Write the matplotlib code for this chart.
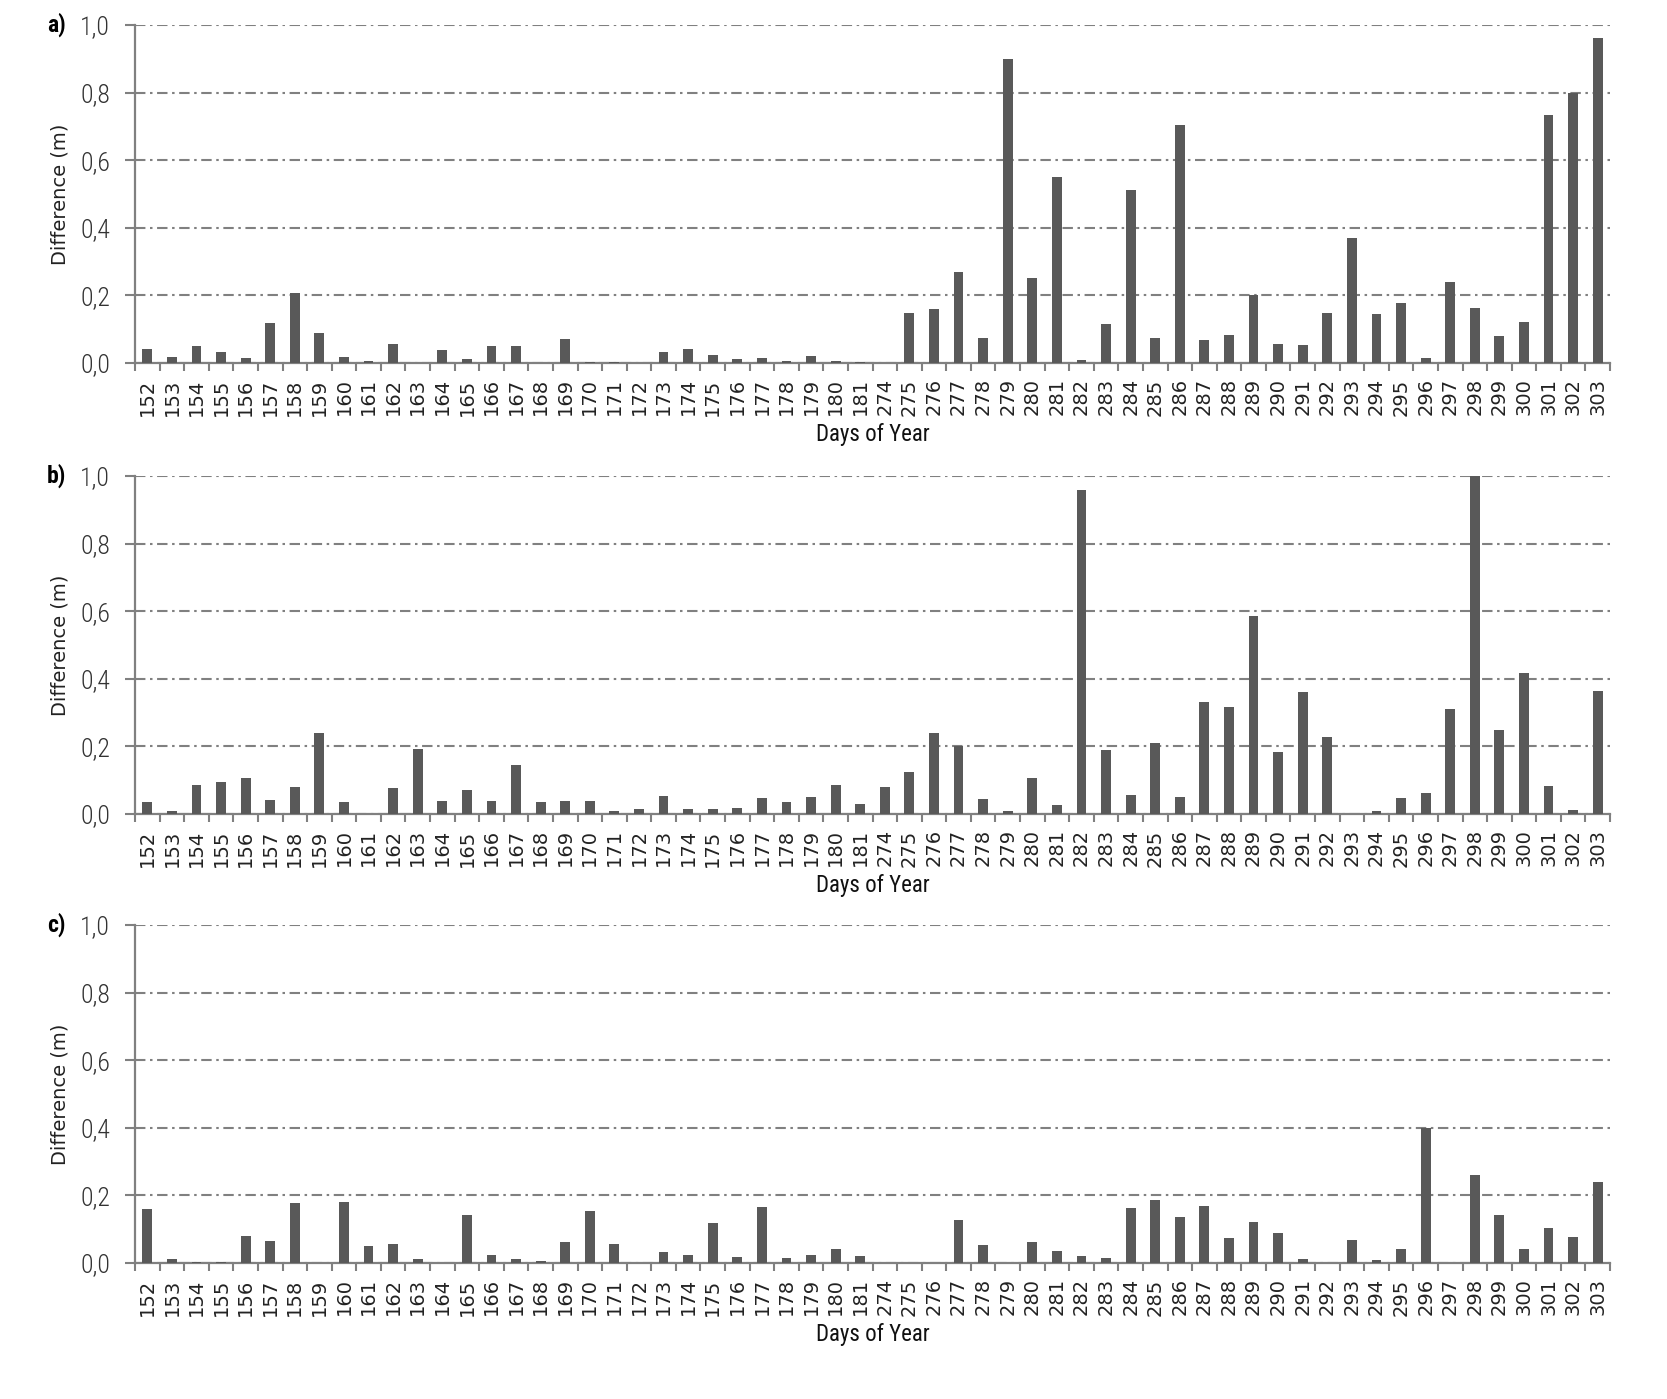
import numpy as np
import matplotlib
matplotlib.use('Agg')
import matplotlib.pyplot as plt
from matplotlib import font_manager

# day-of-year categories (same for all three panels)
days = [str(d) for d in range(152, 182)] + ['274'] + [str(d) for d in range(275, 304)]

diff_a = [0.042, 0.019, 0.051, 0.033, 0.016, 0.119, 0.208, 0.090, 0.019, 0.007,
          0.057, 0.000, 0.039, 0.013, 0.051, 0.051, 0.000, 0.072, 0.004, 0.004,
          0.000, 0.033, 0.042, 0.025, 0.013, 0.016, 0.007, 0.022, 0.007, 0.004,
          0.000, 0.149, 0.161, 0.270, 0.075, 0.900, 0.252, 0.551, 0.010, 0.116,
          0.512, 0.075, 0.704, 0.069, 0.084, 0.202, 0.057, 0.054, 0.149, 0.370,
          0.146, 0.178, 0.016, 0.240, 0.164, 0.081, 0.122, 0.734, 0.799, 0.962]

diff_b = [0.036, 0.010, 0.086, 0.095, 0.107, 0.042, 0.080, 0.239, 0.036, 0.000,
          0.078, 0.192, 0.039, 0.072, 0.039, 0.145, 0.036, 0.039, 0.039, 0.010,
          0.016, 0.054, 0.016, 0.016, 0.019, 0.048, 0.036, 0.051, 0.086, 0.030,
          0.080, 0.125, 0.239, 0.201, 0.045, 0.010, 0.107, 0.027, 0.958, 0.190,
          0.057, 0.210, 0.051, 0.331, 0.316, 0.587, 0.184, 0.360, 0.228, 0.000,
          0.010, 0.048, 0.063, 0.310, 1.000, 0.248, 0.416, 0.083, 0.013, 0.363]

diff_c = [0.161, 0.013, 0.004, 0.004, 0.081, 0.066, 0.178, 0.000, 0.181, 0.051,
          0.057, 0.013, 0.000, 0.143, 0.025, 0.013, 0.007, 0.063, 0.155, 0.057,
          0.000, 0.033, 0.025, 0.119, 0.019, 0.166, 0.016, 0.025, 0.042, 0.022,
          0.000, 0.000, 0.000, 0.128, 0.054, 0.000, 0.063, 0.036, 0.022, 0.016,
          0.164, 0.187, 0.137, 0.169, 0.075, 0.122, 0.090, 0.013, 0.000, 0.069,
          0.010, 0.042, 0.400, 0.000, 0.261, 0.143, 0.042, 0.104, 0.078, 0.240]

panels = ['a)', 'b)', 'c)']
yticks = [0.0, 0.2, 0.4, 0.6, 0.8, 1.0]

# pick a narrow face if one is around, the reference uses a condensed font
installed = {f.name for f in font_manager.fontManager.ttflist}
narrow_face = next((n for n in ['Roboto Condensed', 'DejaVu Sans Condensed',
                                'Liberation Sans Narrow', 'Open Sans Condensed']
                    if n in installed), 'DejaVu Sans')
narrow = [narrow_face, 'DejaVu Sans']
narrow_size = 18.5 if narrow_face != 'DejaVu Sans' else 15

axis_grey = '#808080'
bar_grey = '#595959'

fig = plt.figure(figsize=(16.67, 13.99), dpi=100)

W, H = 1667, 1399
left, width, height = 135 / W, 1475 / W, 338 / H
bottoms = [1 - 363 / H, 1 - 814 / H, 1 - 1263 / H]


def draw_panel(ax, values, tag):
    x = np.arange(len(days))
    ax.bar(x, values, width=0.4, color=bar_grey, zorder=3)
    ax.set_xlim(-0.5, len(days) - 0.5)
    ax.set_ylim(0, 1.0)

    # category boundaries get the tick marks, labels sit in the middle
    ax.set_xticks(np.arange(len(days) + 1) - 0.5)
    ax.set_xticklabels([])
    ax.set_xticks(x, minor=True)
    ax.set_xticklabels(days, minor=True, rotation=90, fontsize=14,
                       color='#222222')
    ax.tick_params(axis='x', which='major', direction='out', length=6,
                   width=1.5, color=axis_grey)
    ax.tick_params(axis='x', which='minor', length=0, pad=11)

    ax.set_yticks(yticks)
    ax.set_yticklabels([f'{v:.1f}'.replace('.', ',') for v in yticks],
                       family=narrow, fontsize=narrow_size, color='#333333',
                       fontweight='light')
    ax.tick_params(axis='y', direction='out', length=7, width=1.5,
                   color=axis_grey, pad=11)

    ax.yaxis.grid(True, color=axis_grey, lw=1.5,
                  linestyle=(0, (5, 2.2, 1.2, 2.2)))
    ax.set_axisbelow(True)

    for s in ['top', 'right']:
        ax.spines[s].set_visible(False)
    for s in ['left', 'bottom']:
        ax.spines[s].set_color(axis_grey)
        ax.spines[s].set_linewidth(1.6)

    ax.set_ylabel('Difference (m)', fontsize=14, color='#222222')
    ax.yaxis.label.set_va('center')
    ax.yaxis.set_label_coords(-75 / 1475, 0.5)
    ax.set_xlabel('Days of Year', family=narrow, fontsize=16.5,
                  color='#111111')
    ax.xaxis.label.set_va('center')
    ax.xaxis.set_label_coords(0.5, -72 / 338)

    pos = ax.get_position()
    fig.text(47 / W, pos.y1, tag, fontsize=17, fontweight='bold',
             ha='left', va='center', family=narrow)


for vals, tag, b in zip([diff_a, diff_b, diff_c], panels, bottoms):
    ax = fig.add_axes([left, b, width, height])
    draw_panel(ax, vals, tag)

plt.savefig('out.png', dpi=100)
plt.close()
